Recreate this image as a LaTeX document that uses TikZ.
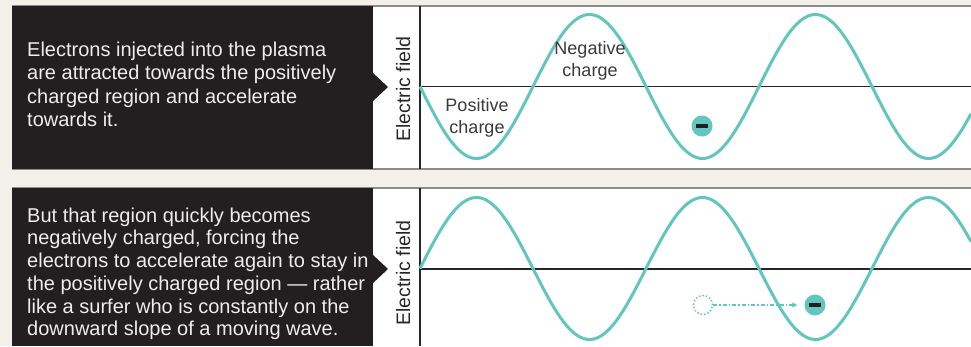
\documentclass[tikz,border=0pt]{standalone}
\usepackage{fontspec}
\setmainfont{Liberation Sans}
\usetikzlibrary{arrows.meta}
\definecolor{bgc}{HTML}{F3F0EA}
\definecolor{ink}{HTML}{231F20}
\definecolor{wavec}{HTML}{62C6BF}
\definecolor{framec}{HTML}{8C8C8C}
\definecolor{labelc}{HTML}{3A3A3A}
\begin{document}
\begin{tikzpicture}[x=1pt,y=-1pt,
  frameline/.style={draw=framec,line width=1.6pt},
  axisline/.style={draw=black!85,line width=1.2pt},
  wavepath/.style={draw=wavec,line width=3pt},
  bodytext/.style={inner sep=0pt,align=left,text=white!93!black,anchor=north west},
  fieldlabel/.style={inner sep=0pt,rotate=90,anchor=base,font=\fontsize{19.5}{22}\selectfont,text=black!85},
  chargelabel/.style={inner sep=0pt,align=center,text=labelc,font=\fontsize{18}{22.5}\selectfont},
  electron/.style={circle,fill=wavec,minimum size=21pt,inner sep=0pt,
    path picture={\fill[ink] ([xshift=-6pt,yshift=-2.3pt]path picture bounding box.center) rectangle ([xshift=6pt,yshift=2.3pt]path picture bounding box.center);}},
  ghost/.style={circle,draw=wavec,dotted,line width=1.5pt,minimum size=19pt,inner sep=0pt},
  move/.style={draw=wavec,line width=1.3pt,dash pattern=on 4pt off 2pt on 1.5pt off 2pt,
    -{Triangle[length=5pt,width=5pt]},shorten >=7pt}
]
\useasboundingbox (0,0) rectangle (971,346);
\fill[bgc] (0,0) rectangle (971,346);

% ---------- Panel 1 ----------
\fill[white] (373,6) rectangle (971,169);
\draw[frameline] (12,6) -- (971,6);
\draw[frameline] (12,169) -- (971,169);
\fill[ink] (12,6) rectangle (373,169);
\fill[ink] (372,72) -- (388,87) -- (372,102) -- cycle;
\node[bodytext,font=\fontsize{20}{23.2}\selectfont] (t1) at (27,42)
  {Electrons injected into the plasma\\are attracted towards the positively\\charged region and accelerate\\towards it.};
\node[fieldlabel] (f1) at (410,89) {Electric field};
\draw[axisline] (420,6) -- (420,169);
\draw[axisline] (420,86.5) -- (971,86.5);
\draw[wavepath] plot[domain=420:971,samples=200,smooth] (\x,{86.5+72*sin((\x-420)*1.59292)});
\node[chargelabel] (neg) at (590,61) {Negative\\charge};
\node[chargelabel] (pos) at (477,118) {Positive\\charge};
\node[electron] (e1) at (702,126) {};

% ---------- Panel 2 ----------
\fill[white] (373,188) rectangle (971,346);
\draw[frameline] (12,188) -- (971,188);
\fill[ink] (12,188) rectangle (373,346);
\fill[ink] (372,254) -- (388,269) -- (372,284) -- cycle;
\node[bodytext,font=\fontsize{20}{22.7}\selectfont] (t2) at (27,207.5)
  {But that region quickly becomes\\negatively charged, forcing the\\electrons to accelerate again to stay in\\the positively charged region --- rather\\like a surfer who is constantly on the\\downward slope of a moving wave.};
\node[fieldlabel] (f2) at (410,273) {Electric field};
\draw[axisline] (420,188) -- (420,346);
\draw[axisline] (420,269) -- (971,269);
\draw[wavepath] plot[domain=420:971,samples=200,smooth] (\x,{268.5-71*sin((\x-420)*1.59292)});
\node[ghost] (g2) at (703,305) {};
\node[electron] (e2) at (815,305) {};
\draw[move] (g2) -- (e2);
\end{tikzpicture}
\end{document}
